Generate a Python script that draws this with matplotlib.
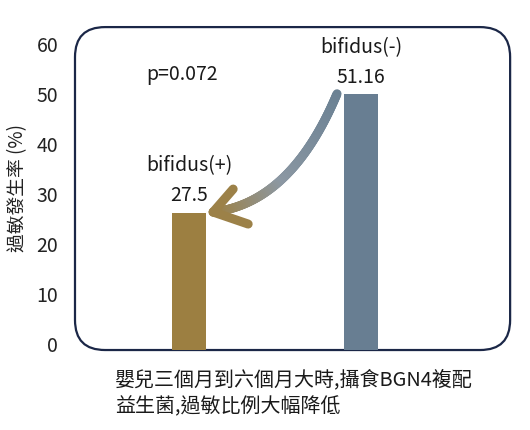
import numpy as np
import matplotlib
matplotlib.use("Agg")
import matplotlib.pyplot as plt
from matplotlib.patches import FancyBboxPatch
from matplotlib.collections import LineCollection
from matplotlib.colors import to_rgb
from matplotlib.transforms import ScaledTranslation

plt.rcParams['font.family'] = ['Noto Sans CJK TC', 'DejaVu Sans']

# データ
groups = ["bifidus(+)", "bifidus(-)"]
values = [27.5, 51.16]
value_labels = ["27.5", "51.16"]
bar_colors = ["#9c7f41", "#687e92"]
yticks = [0, 10, 20, 30, 40, 50, 60]
p_text = "p=0.072"
ylabel = "過敏發生率 (%)"
caption = ["嬰兒三個月到六個月大時,攝食BGN4複配", "益生菌,過敏比例大幅降低"]

fig = plt.figure(figsize=(5.3, 4.3), dpi=100)
ax = fig.add_axes([0.1415, 0.186, 0.821, 0.751])

x = np.arange(len(groups))
ax.bar(x, values, width=0.2, color=bar_colors, zorder=2)
ax.set_xlim(-0.663, 1.866)
ax.set_ylim(0, 64.6)

# 角丸の枠
ax.patch.set_visible(False)
for s in ax.spines.values():
    s.set_visible(False)
frame = FancyBboxPatch((0, 0), 1, 1, boxstyle="round,pad=0,rounding_size=0.069",
                       mutation_aspect=435 / 323, transform=ax.transAxes,
                       facecolor="white", edgecolor="#1b2747", linewidth=1.6,
                       zorder=0, clip_on=False)
ax.add_patch(frame)

ax.set_xticks([])
ax.set_yticks(yticks)
ax.set_yticklabels([str(t) for t in yticks], fontsize=14, color="#222222")
ax.tick_params(axis="y", length=0, pad=12)
offset = ScaledTranslation(0, 6 / 100, fig.dpi_scale_trans)
for lab in ax.get_yticklabels():
    lab.set_transform(lab.get_transform() + offset)

fig.text(18 / 530, 1 - 188 / 430, ylabel, rotation=90, fontsize=13.5,
         ha="center", va="center", color="#222222")

# ラベル
for xi, v, g, vl in zip(x, values, groups, value_labels):
    ax.text(xi, v + 3.4, vl, ha="center", va="center", fontsize=14, color="#1a1a1a")
    ax.text(xi, v + 9.4, g, ha="center", va="center", fontsize=14, color="#1a1a1a")
ax.text(-0.04, 55.2, p_text, ha="center", va="center", fontsize=14, color="#1a1a1a")

# グラデーションの矢印
p0 = np.array([x[1] - 0.14, values[1] + 0.1])
p1 = np.array([x[1] - 0.407, 29.4])
p2 = np.array([x[0] + 0.14, values[0] + 0.1])
t = np.linspace(0, 1, 150)[:, None]
curve = (1 - t) ** 2 * p0 + 2 * (1 - t) * t * p1 + t ** 2 * p2
segs = np.stack([curve[:-1], curve[1:]], axis=1)
c_start = np.array(to_rgb("#6b8193"))
c_mid = np.array(to_rgb("#8c98a3"))
c_end = np.array(to_rgb("#9c8148"))
cols = []
for tt in np.linspace(0, 1, len(segs)):
    if tt < 0.55:
        cols.append(c_start + (c_mid - c_start) * tt / 0.55)
    else:
        cols.append(c_mid + (c_end - c_mid) * (tt - 0.55) / 0.45)
lc = LineCollection(segs, colors=cols, linewidths=6.5, capstyle="round", zorder=3)
ax.add_collection(lc)

# 矢印の先端（ピクセル単位のオフセットをデータ座標へ）
px_x = 1 / 172
px_y = 1 / 5
tip = curve[-1]
for dx, dy in [(20, 23), (35, -12)]:
    ax.plot([tip[0], tip[0] + dx * px_x], [tip[1], tip[1] + dy * px_y],
            color="#9c8148", linewidth=6.5, solid_capstyle="round", zorder=4)

fig.text(115 / 530, 1 - 380 / 430, caption[0], fontsize=14.4, ha="left", va="center", color="#1a1a1a")
fig.text(115 / 530, 1 - 407 / 430, caption[1], fontsize=14.4, ha="left", va="center", color="#1a1a1a")

fig.savefig("out.png", dpi=100)
